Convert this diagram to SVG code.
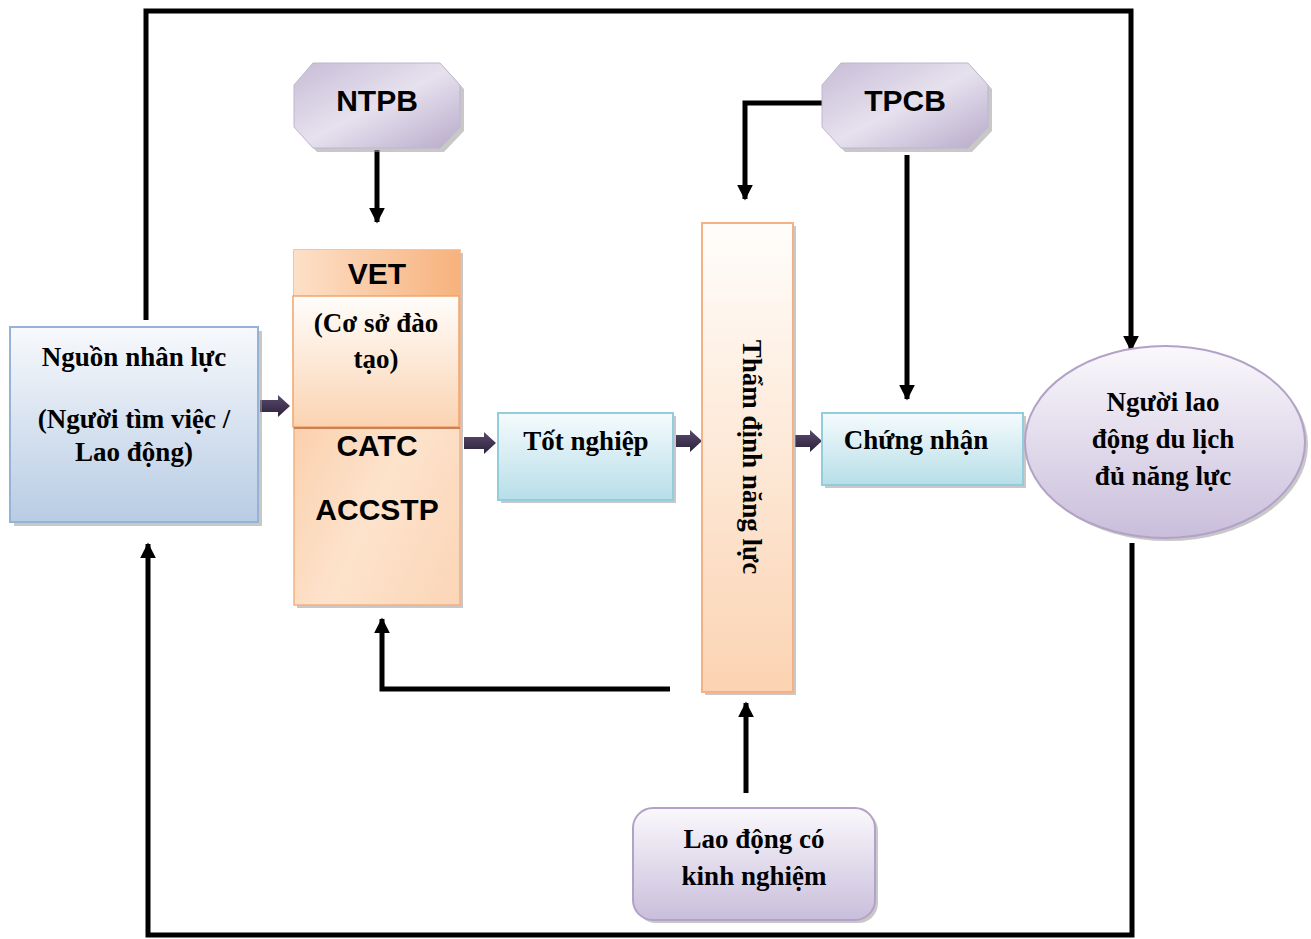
<svg xmlns="http://www.w3.org/2000/svg" width="1311" height="939" viewBox="0 0 1311 939">
<defs>
<linearGradient id="gBlue" x1="0" y1="0" x2="0" y2="1"><stop offset="0" stop-color="#f7f9fc"/><stop offset="1" stop-color="#b8cce4"/></linearGradient>
<linearGradient id="gCyan" x1="0" y1="0" x2="0" y2="1"><stop offset="0" stop-color="#f5fbfd"/><stop offset="1" stop-color="#b7dee8"/></linearGradient>
<linearGradient id="gPurp" x1="0" y1="0" x2="0" y2="1"><stop offset="0" stop-color="#faf8fc"/><stop offset="1" stop-color="#c9bedb"/></linearGradient>
<linearGradient id="gOct" x1="0" y1="0" x2="1" y2="1"><stop offset="0" stop-color="#c7bcd6"/><stop offset="0.5" stop-color="#e6e1ee"/><stop offset="1" stop-color="#b8abca"/></linearGradient>
<linearGradient id="gPeach" x1="0" y1="0" x2="0" y2="1"><stop offset="0" stop-color="#fffdfb"/><stop offset="1" stop-color="#fbd3b2"/></linearGradient>
<linearGradient id="gHead" x1="0" y1="0" x2="1" y2="0"><stop offset="0" stop-color="#fde0c8"/><stop offset="1" stop-color="#f7b27d"/></linearGradient>
<linearGradient id="gLow" x1="0" y1="0" x2="1" y2="1"><stop offset="0" stop-color="#f9c398"/><stop offset="0.6" stop-color="#fde3cc"/><stop offset="1" stop-color="#fbd5b6"/></linearGradient>
<linearGradient id="gArr" x1="0" y1="0" x2="0" y2="1"><stop offset="0" stop-color="#5a4a6e"/><stop offset="1" stop-color="#2b2138"/></linearGradient>
<marker id="ah" viewBox="0 0 10 10" refX="9" refY="5" markerWidth="3.2" markerHeight="3.2" markerUnits="strokeWidth" orient="auto"><path d="M0,0 L10,5 L0,10 z" fill="#000"/></marker>
</defs>
<style>
.ser{font-family:"Liberation Serif","Times New Roman",serif;font-weight:bold;font-size:27px;fill:#000;text-anchor:middle}
.san{font-family:"Liberation Sans",Arial,sans-serif;font-weight:bold;font-size:30px;fill:#000;text-anchor:middle}
.ln{fill:none;stroke:#000;stroke-width:5}
.sh{fill:#9a9a9a;opacity:0.55}
.blk{fill:url(#gArr)}
</style>
<rect width="1311" height="939" fill="#fff"/>

<g id="connectors">
  <polyline class="ln" points="146,320 146,11 1131,11 1131,350" marker-end="url(#ah)"/>
  <polyline class="ln" points="1132,543 1132,935 148,935 148,544" marker-end="url(#ah)"/>
  <line class="ln" x1="377" y1="150" x2="377" y2="222" marker-end="url(#ah)"/>
  <polyline class="ln" points="822,103 745,103 745,199" marker-end="url(#ah)"/>
  <line class="ln" x1="907" y1="155" x2="907" y2="399" marker-end="url(#ah)"/>
  <polyline class="ln" points="670,689 382,689 382,619" marker-end="url(#ah)"/>
  <line class="ln" x1="746" y1="793" x2="746" y2="703" marker-end="url(#ah)"/>
  <path class="blk" d="M260,400 L278,400 L278,395 L290,406 L278,417 L278,412 L260,412 z"/>
  <path class="blk" d="M464,437 L484,437 L484,432 L496,443 L484,454 L484,449 L464,449 z"/>
  <path class="blk" d="M676,435 L690,435 L690,430 L702,441 L690,452 L690,447 L676,447 z"/>
  <path class="blk" d="M795,435 L810,435 L810,430 L822,441 L810,452 L810,447 L795,447 z"/>
</g>

<g id="ntpb">
  <polygon class="sh" points="317,67 444,67 464,89 464,131 444,152 317,152 298,131 298,89"/>
  <polygon points="313,63 440,63 460,85 460,127 440,148 313,148 294,127 294,85" fill="url(#gOct)" stroke="#c0b4d0" stroke-width="1"/>
  <text class="san" x="377" y="111">NTPB</text>
</g>

<g id="tpcb">
  <polygon class="sh" points="845,67 972,67 992,89 992,131 972,152 845,152 826,131 826,89"/>
  <polygon points="841,63 968,63 988,85 988,127 968,148 841,148 822,127 822,85" fill="url(#gOct)" stroke="#c0b4d0" stroke-width="1"/>
  <text class="san" x="905" y="111">TPCB</text>
</g>

<g id="nguon">
  <rect class="sh" x="14" y="331" width="248" height="195"/>
  <rect x="10" y="327" width="248" height="195" fill="url(#gBlue)" stroke="#95b3d7" stroke-width="2"/>
  <text class="ser" x="134" y="366">Nguồn nhân lực</text>
  <text class="ser" x="134" y="428">(Người tìm việc /</text>
  <text class="ser" x="134" y="461">Lao động)</text>
</g>

<g id="vet">
  <rect class="sh" x="297" y="253" width="166" height="355"/>
  <rect x="294" y="250" width="166" height="355" fill="url(#gLow)" stroke="#f4b183" stroke-width="1.5"/>
  <rect x="294" y="250" width="166" height="46" fill="url(#gHead)"/>
  <rect x="293" y="296" width="166" height="131" fill="url(#gPeach)" stroke="#f2a46a" stroke-width="1.5"/>
  <line x1="294" y1="428" x2="460" y2="428" stroke="#c8825a" stroke-width="2"/>
  <text class="san" x="377" y="284">VET</text>
  <text class="ser" x="376" y="332">(Cơ sở đào</text>
  <text class="ser" x="376" y="368">tạo)</text>
  <text class="san" x="377" y="456">CATC</text>
  <text class="san" x="377" y="520">ACCSTP</text>
</g>

<g id="totnghiep">
  <rect class="sh" x="501" y="416" width="175" height="87"/>
  <rect x="498" y="413" width="175" height="87" fill="url(#gCyan)" stroke="#93cddd" stroke-width="2"/>
  <text class="ser" x="586" y="450">Tốt nghiệp</text>
</g>

<g id="thamdinh">
  <rect class="sh" x="705" y="226" width="91" height="469"/>
  <rect x="702" y="223" width="91" height="469" fill="url(#gPeach)" stroke="#f4b183" stroke-width="2"/>
  <text class="ser" transform="translate(748,457) rotate(90)" x="0" y="5">Thẩm định năng lực</text>
</g>

<g id="chungnhan">
  <rect class="sh" x="825" y="416" width="201" height="72"/>
  <rect x="822" y="413" width="201" height="72" fill="url(#gCyan)" stroke="#93cddd" stroke-width="2"/>
  <text class="ser" x="916" y="449">Chứng nhận</text>
</g>

<g id="nguoilaodong">
  <ellipse class="sh" cx="1168" cy="445" rx="140" ry="96"/>
  <ellipse cx="1165" cy="442" rx="140" ry="96" fill="url(#gPurp)" stroke="#b3a2c7" stroke-width="2"/>
  <text class="ser" x="1163" y="411">Người lao</text>
  <text class="ser" x="1163" y="448">động du lịch</text>
  <text class="ser" x="1163" y="485">đủ năng lực</text>
</g>

<g id="laodong">
  <rect class="sh" x="636" y="811" width="242" height="112" rx="20"/>
  <rect x="633" y="808" width="242" height="112" rx="20" fill="url(#gPurp)" stroke="#b3a2c7" stroke-width="2"/>
  <text class="ser" x="754" y="848">Lao động có</text>
  <text class="ser" x="754" y="885">kinh nghiệm</text>
</g>
</svg>
